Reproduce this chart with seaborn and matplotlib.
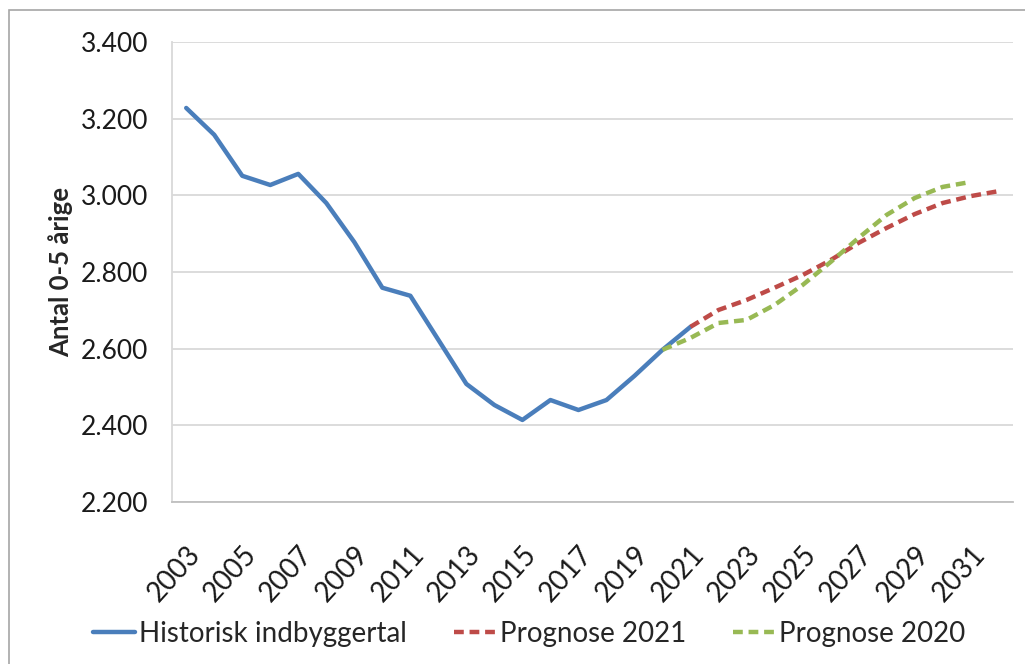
import matplotlib
matplotlib.use("Agg")
import matplotlib.pyplot as plt
import matplotlib.ticker as mticker
from matplotlib.patches import Rectangle
import seaborn as sns
import pandas as pd

# historisk indbyggertal 2003-2021
hist_years = list(range(2003, 2022))
hist_values = [3228, 3158, 3051, 3027, 3056, 2980, 2878, 2759, 2738, 2623,
               2508, 2453, 2414, 2466, 2440, 2466, 2529, 2597, 2657]

# prognose 2021 (2021-2032)
prog21_years = list(range(2021, 2033))
prog21_values = [2657, 2701, 2727, 2759, 2792, 2831, 2876, 2915, 2951, 2980, 2998, 3011]

# prognose 2020 (2020-2031)
prog20_years = list(range(2020, 2032))
prog20_values = [2597, 2628, 2667, 2675, 2714, 2766, 2826, 2889, 2949, 2993, 3022, 3035]

tick_years = list(range(2003, 2032, 2))

sns.set_style("white")
plt.rcParams["font.family"] = ["Lato", "DejaVu Sans"]

fig = plt.figure(figsize=(10.25, 6.64), dpi=100)
ax = fig.add_axes([0.168, 0.244, 0.82, 0.6927])

# chart border
fig.patches.append(Rectangle((0.009, -0.01), 1.0, 0.995, transform=fig.transFigure,
                             fill=False, edgecolor="#a6a6a6", linewidth=1.2))

hist = pd.DataFrame({"aar": hist_years, "antal": hist_values})
p21 = pd.DataFrame({"aar": prog21_years, "antal": prog21_values})
p20 = pd.DataFrame({"aar": prog20_years, "antal": prog20_values})

sns.lineplot(data=hist, x="aar", y="antal", ax=ax, color="#4A7EBB", linewidth=3.2,
             label="Historisk indbyggertal", zorder=3)
sns.lineplot(data=p21, x="aar", y="antal", ax=ax, color="#BE4B48", linewidth=3.2,
             linestyle=(0, (2.2, 1.3)), label="Prognose 2021", zorder=4)
sns.lineplot(data=p20, x="aar", y="antal", ax=ax, color="#98B954", linewidth=3.2,
             linestyle=(0, (2.2, 1.3)), label="Prognose 2020", zorder=4)

ax.set_xlim(2002.5, 2032.5)
ax.set_ylim(2200, 3400)
ax.yaxis.set_major_locator(mticker.MultipleLocator(200))
ax.yaxis.set_major_formatter(mticker.FuncFormatter(lambda v, p: f"{int(v):,}".replace(",", ".")))
ax.grid(axis="y", color="#d9d9d9", linewidth=1.3)

# tick marks between categories, labels every second year
ax.set_xticks([y - 0.5 for y in range(2003, 2034)])
ax.set_xticklabels([])
ax.set_xticks(tick_years, minor=True)
ax.set_xticklabels([str(y) for y in tick_years], minor=True, rotation=48, ha="right",
                   rotation_mode="anchor", fontsize=20, color="#1a1a1a")
ax.tick_params(axis="x", which="major", length=7, color="#bfbfbf", width=1.2, direction="out")
ax.tick_params(axis="x", which="minor", length=0, pad=28)
ax.tick_params(axis="y", length=9, color="#bfbfbf", width=1.2, labelsize=19, pad=8,
               labelcolor="#1a1a1a")

for side in ["top", "right"]:
    ax.spines[side].set_visible(False)
ax.spines["left"].set_color("#d9d9d9")
ax.spines["left"].set_linewidth(1.3)
ax.spines["bottom"].set_color("#bfbfbf")
ax.spines["bottom"].set_linewidth(1.3)

ax.set_xlabel("")
ax.set_ylabel("Antal 0-5 årige", fontsize=18.5, fontweight="bold", labelpad=6)

ax.legend(loc="center", bbox_to_anchor=(0.425, -0.287), ncol=3, frameon=False,
          fontsize=20, handlelength=1.5, handletextpad=0.15, columnspacing=1.7)

fig.savefig("out.png", dpi=100)
